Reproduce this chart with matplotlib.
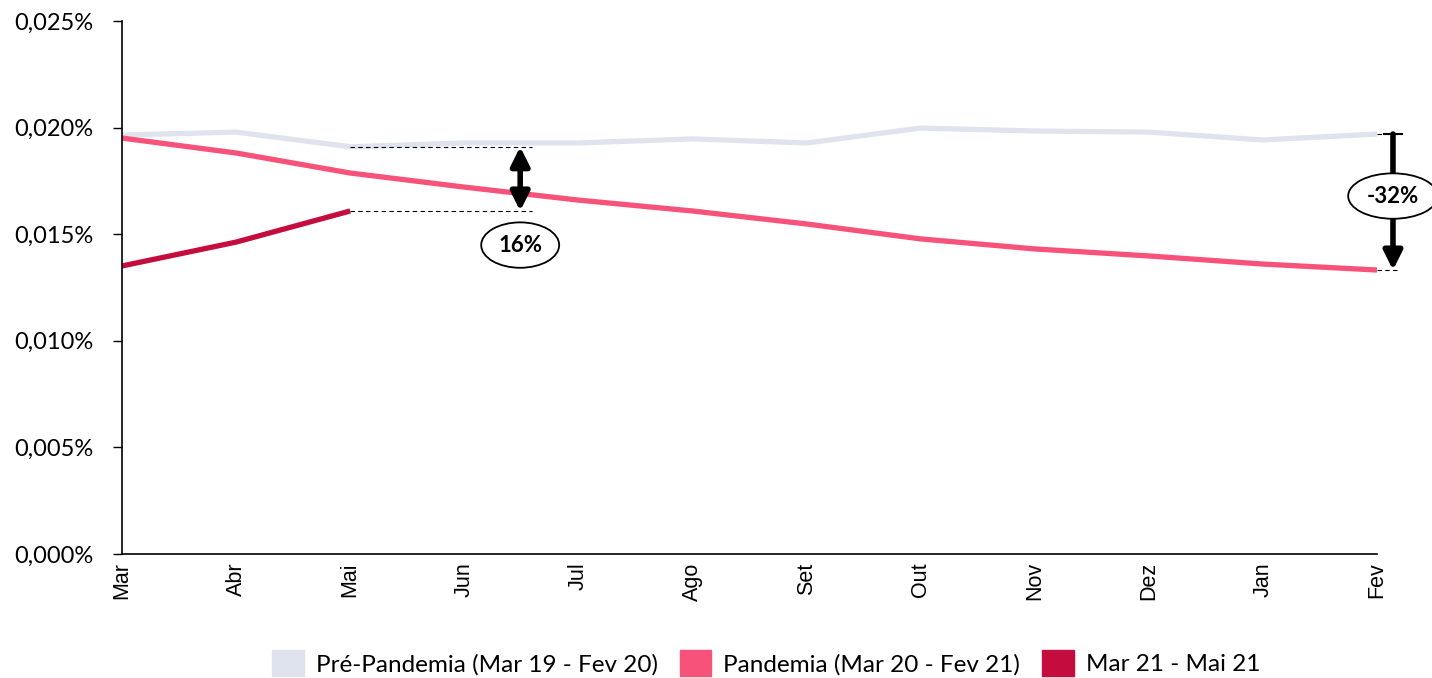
import numpy as np
import matplotlib.pyplot as plt
from matplotlib.patches import Patch
from matplotlib.ticker import FuncFormatter

months = ["Mar", "Abr", "Mai", "Jun", "Jul", "Ago", "Set", "Out", "Nov", "Dez", "Jan", "Fev"]

# values in percent
pre_pandemia = [0.01965, 0.01979, 0.01910, 0.01928, 0.01928, 0.01947,
                0.01928, 0.01998, 0.01984, 0.01979, 0.01942, 0.01970]
pandemia = [0.01951, 0.01881, 0.01787, 0.01721, 0.01660, 0.01609,
            0.01548, 0.01478, 0.01431, 0.01398, 0.01360, 0.01332]
recent = [0.01351, 0.01463, 0.01609]

labels = ["Pré-Pandemia (Mar 19 - Fev 20)", "Pandemia (Mar 20 - Fev 21)", "Mar 21 - Mai 21"]
colors = ["#DEE3EE", "#F7527A", "#C40D3E"]

plt.rcParams["font.family"] = ["Lato", "DejaVu Sans"]

fig = plt.figure(figsize=(14.32, 6.78), dpi=100)
ax = fig.add_axes([0.0852, 0.1829, 0.8764, 0.7861])

x = np.arange(len(months))
ax.plot(x, pre_pandemia, color=colors[0], lw=3.8, solid_capstyle="butt")
ax.plot(x, pandemia, color=colors[1], lw=3.8, solid_capstyle="butt")
ax.plot(x[:len(recent)], recent, color=colors[2], lw=3.8, solid_capstyle="butt")

ax.set_xlim(0, 11)
ax.set_ylim(0, 0.025)
ax.set_yticks(np.arange(0, 0.0251, 0.005))
ax.yaxis.set_major_formatter(FuncFormatter(lambda v, p: f"{v:.3f}%".replace(".", ",")))
ax.set_xticks(x)
ax.set_xticklabels(months, rotation=90, family="Liberation Sans", fontsize=15.5)
ax.tick_params(axis="x", length=0, pad=6)
ax.tick_params(axis="y", length=6.5, width=1, labelsize=17, pad=14)
for s in ["top", "right"]:
    ax.spines[s].set_visible(False)
ax.spines["left"].set_linewidth(1.2)
ax.spines["bottom"].set_linewidth(1.2)

arrow_kw = dict(color="black", lw=4, mutation_scale=28, shrinkA=0, shrinkB=0)
ell_kw = dict(boxstyle="ellipse,pad=0.25", fc="white", ec="black", lw=1.3)

# annotation 16%
xa = 3.49
y_top = pre_pandemia[2]
y_bot = recent[2]
ax.plot([2, xa + 0.1], [y_top, y_top], color="black", lw=0.8, ls=(0, (4, 3)))
ax.plot([2, xa + 0.1], [y_bot, y_bot], color="black", lw=0.8, ls=(0, (4, 3)))
ax.annotate("", xy=(xa, y_top), xytext=(xa, y_bot),
            arrowprops=dict(arrowstyle="<|-|>", **arrow_kw))
ax.text(xa, 0.01449, "16%", ha="center", va="center", fontsize=16, fontweight="bold",
        bbox=ell_kw)

# annotation -32%
xb = 11.14
ax.plot([11, 11.2], [pre_pandemia[-1], pre_pandemia[-1]], color="black", lw=0.8,
        ls=(0, (4, 3)), clip_on=False)
ax.plot([11, 11.2], [pandemia[-1], pandemia[-1]], color="black", lw=0.8,
        ls=(0, (4, 3)), clip_on=False)
ax.plot([xb - 0.08, xb + 0.08], [pre_pandemia[-1], pre_pandemia[-1]], color="black",
        lw=1.5, clip_on=False)
ax.annotate("", xy=(xb, pandemia[-1]), xytext=(xb, pre_pandemia[-1]),
            arrowprops=dict(arrowstyle="-|>", **arrow_kw), annotation_clip=False)
ax.text(xb, 0.01679, "-32%", ha="center", va="center", fontsize=16, fontweight="bold",
        bbox=ell_kw, clip_on=False)

handles = [Patch(color=c) for c in colors]
fig.legend(handles, labels, loc="center", bbox_to_anchor=(0.535, 0.022), ncol=3,
           frameon=False, fontsize=17.5, handlelength=1.3, handleheight=1.3,
           columnspacing=0.9, handletextpad=0.5)

fig.savefig("out.png", dpi=100)
